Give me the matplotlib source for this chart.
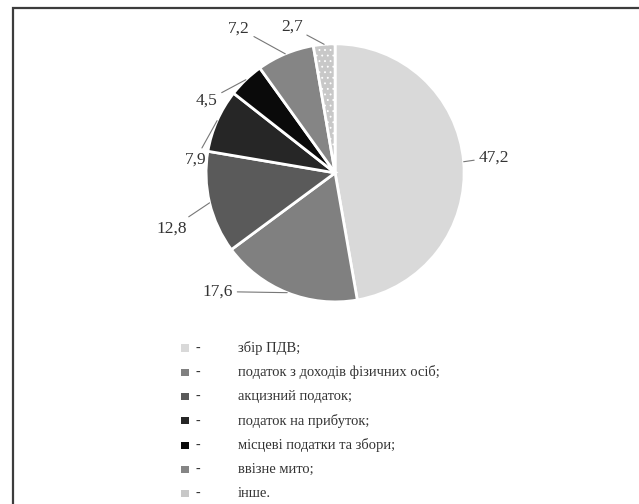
import numpy as np
import matplotlib.pyplot as plt
from matplotlib.patches import Rectangle

shares = [47.2, 17.6, 12.8, 7.9, 4.5, 7.2, 2.7]
names = [
    'збір ПДВ;',
    'податок з доходів фізичних осіб;',
    'акцизний податок;',
    'податок на прибуток;',
    'місцеві податки та збори;',
    'ввізне мито;',
    'інше.',
]

colors = ['#d9d9d9', '#808080', '#5a5a5a', '#262626', '#0a0a0a', '#858585', '#c8c8c8']
hatches = [None, None, None, None, None, None, '...']
# where each value label sits (right edge for left-hand labels)
label_pos = [(1.11, 0.12), (-0.79, -0.92), (-1.15, -0.43), (-1.0, 0.10),
             (-0.91, 0.56), (-0.66, 1.12), (-0.25, 1.13)]

plt.rcParams['font.family'] = ['Liberation Serif', 'DejaVu Serif']
plt.rcParams['hatch.linewidth'] = 0.6

fig = plt.figure(figsize=(6.39, 5.04), dpi=100)
fig.patches.append(Rectangle((13 / 639, -0.1), 1.2, 1.1 - 8 / 504,
                             transform=fig.transFigure, fill=False,
                             edgecolor='#3c3c3c', linewidth=1.6))

ax = fig.add_axes([0.2214, 0.273, 0.606, 0.768])
wedges, _ = ax.pie(shares, colors=colors, startangle=90, counterclock=False,
                   wedgeprops=dict(edgecolor='white', linewidth=2))
for w, h in zip(wedges, hatches):
    if h:
        w.set_hatch(h)

total = sum(shares)
start = 90.0
for v, (tx, ty) in zip(shares, label_pos):
    mid = np.deg2rad(start - v / total * 180)
    start -= v / total * 360
    ex, ey = np.cos(mid), np.sin(mid)
    ha = 'left' if tx > 0 else 'right'
    ax.annotate(f'{v:.1f}'.replace('.', ','), xy=(ex, ey), xytext=(tx, ty),
                ha=ha, va='center', fontsize=12.5, color='#333333',
                arrowprops=dict(arrowstyle='-', color='#777777', lw=0.8,
                                shrinkA=1, shrinkB=0))
ax.set_xlim(-1.5, 1.5)
ax.set_ylim(-1.5, 1.5)
ax.set_aspect('equal')
ax.axis('off')

# legend block
lg = fig.add_axes([0, 0, 1, 1])
lg.set_xlim(0, 639)
lg.set_ylim(504, 0)
lg.axis('off')
for i, (n, c) in enumerate(zip(names, colors)):
    y = 348 + i * 24.3
    lg.scatter([185], [y], marker='s', s=26, color=c, edgecolors='none')
    lg.text(195, y, '-', va='center', ha='left', fontsize=10, color='#333333')
    lg.text(238, y, n, va='center', ha='left', fontsize=10.5, color='#333333')

fig.savefig('out.png', dpi=100)
